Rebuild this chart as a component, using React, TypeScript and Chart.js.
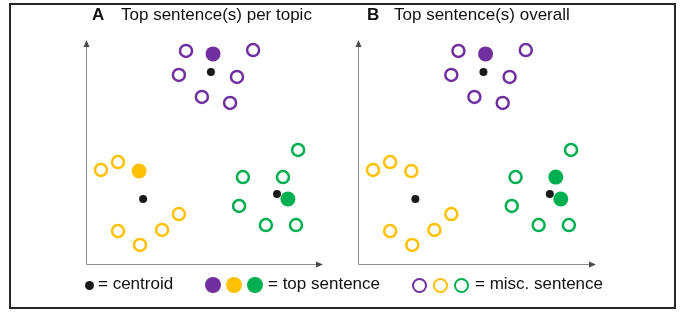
import React, { useEffect, useRef } from "react";
import { Chart, registerables } from "chart.js";

Chart.register(...registerables);

const PURPLE = "#7030A0";
const YELLOW = "#FFC000";
const GREEN = "#00B050";
const BLACK = "#1a1a1a";

// Cluster points (abstract 0-100 units on both axes)
const purpleX = [42.2, 53.6, 70.5, 39.2, 63.7, 48.9, 60.8];
const purpleY = [95.1, 93.8, 95.5, 84.4, 83.5, 74.6, 71.9];
const yellowX = [6.3, 13.5, 22.4, 39.2, 32.1, 13.5, 22.8];
const yellowY = [42.0, 45.5, 41.5, 22.3, 15.2, 14.7, 8.5];
const greenX = [89.5, 66.2, 83.1, 85.2, 64.6, 75.9, 88.6];
const greenY = [50.9, 38.8, 38.8, 29.0, 25.9, 17.4, 17.4];
const centroidX = [52.7, 24.1, 80.6];
const centroidY = [85.7, 29.0, 31.3];

// Indices of the "top sentence" points per cluster (purple, yellow, green)
const topIndexA = [[1], [2], [3]];
const topIndexB = [[1], [], [2, 3]];

const titleA = "Top sentence(s) per topic";
const titleB = "Top sentence(s) overall";

const FONT = '"Liberation Sans", Arial, Helvetica, sans-serif';

function buildDatasets(topIdx: number[][]) {
  const groups: [number[], number[], string][] = [
    [purpleX, purpleY, PURPLE],
    [yellowX, yellowY, YELLOW],
    [greenX, greenY, GREEN],
  ];
  const ds: any[] = [];
  groups.forEach(([xs, ys, c], g) => {
    const misc: any[] = [];
    const top: any[] = [];
    xs.forEach((x, i) => (topIdx[g].includes(i) ? top : misc).push({ x, y: ys[i] }));
    ds.push({
      data: top,
      pointRadius: 7.5,
      pointBackgroundColor: c,
      pointBorderColor: c,
      pointBorderWidth: 0,
      clip: false,
    });
    ds.push({
      data: misc,
      pointRadius: 6,
      pointBackgroundColor: "#ffffff",
      pointBorderColor: c,
      pointBorderWidth: 2.5,
      clip: false,
    });
  });
  ds.push({
    data: centroidX.map((x, i) => ({ x, y: centroidY[i] })),
    pointRadius: 4,
    pointBackgroundColor: BLACK,
    pointBorderColor: BLACK,
    pointBorderWidth: 0,
    clip: false,
  });
  return ds;
}

const axisArrows = {
  id: "axisArrows",
  beforeDatasetsDraw(chart: any) {
    const { ctx, chartArea } = chart;
    const { left, right, top, bottom } = chartArea;
    ctx.save();
    ctx.strokeStyle = "#8c8c8c";
    ctx.lineWidth = 1;
    ctx.beginPath();
    ctx.moveTo(left + 0.5, top + 5);
    ctx.lineTo(left + 0.5, bottom + 0.5);
    ctx.lineTo(right - 5, bottom + 0.5);
    ctx.stroke();
    ctx.fillStyle = "#4a4a4a";
    ctx.beginPath();
    ctx.moveTo(left + 0.5, top);
    ctx.lineTo(left + 3.5, top + 7);
    ctx.lineTo(left - 2.5, top + 7);
    ctx.closePath();
    ctx.fill();
    ctx.beginPath();
    ctx.moveTo(right, bottom + 0.5);
    ctx.lineTo(right - 7, bottom + 3.5);
    ctx.lineTo(right - 7, bottom - 2.5);
    ctx.closePath();
    ctx.fill();
    ctx.restore();
  },
};

function Panel({ left, padding, topIdx }: { left: number; padding: any; topIdx: number[][] }) {
  const ref = useRef<HTMLCanvasElement | null>(null);
  useEffect(() => {
    if (!ref.current) return;
    const chart = new Chart(ref.current, {
      type: "scatter",
      data: { datasets: buildDatasets(topIdx) },
      options: {
        responsive: false,
        animation: false,
        events: [],
        layout: { padding },
        plugins: { legend: { display: false }, tooltip: { enabled: false } },
        scales: {
          x: { type: "linear", min: 0, max: 100, display: false },
          y: { type: "linear", min: 0, max: 100, display: false },
        },
      },
      plugins: [axisArrows],
    } as any);
    return () => chart.destroy();
  }, []);
  return (
    <canvas
      ref={ref}
      width={345}
      height={312}
      style={{ position: "absolute", left, top: 0, width: 345, height: 312 }}
    />
  );
}

const textStyle = (left: number, top: number, bold = false): React.CSSProperties => ({
  position: "absolute",
  left,
  top,
  font: `${bold ? "bold " : ""}17px ${FONT}`,
  lineHeight: "20px",
  whiteSpace: "nowrap",
  color: "#111",
});

const dot = (cx: number, cy: number, d: number, color: string, open = false): React.CSSProperties => ({
  position: "absolute",
  left: cx - d / 2,
  top: cy - d / 2,
  width: d,
  height: d,
  boxSizing: "border-box",
  borderRadius: "50%",
  background: open ? "#fff" : color,
  border: open ? `2.5px solid ${color}` : "none",
});

export default function App() {
  return (
    <div
      style={{
        position: "fixed",
        left: 0,
        top: 0,
        width: 689,
        height: 312,
        background: "#fff",
        overflow: "hidden",
      }}
    >
      <div
        style={{
          position: "absolute",
          left: 9,
          top: 3,
          width: 667,
          height: 306,
          boxSizing: "border-box",
          border: "2px solid #262626",
        }}
      />
      <Panel left={0} padding={{ left: 86, right: 22, top: 40, bottom: 48 }} topIdx={topIndexA} />
      <Panel left={344} padding={{ left: 14, right: 93, top: 40, bottom: 48 }} topIdx={topIndexB} />

      <div style={textStyle(92, 5, true)}>A</div>
      <div style={textStyle(121, 5)}>{titleA}</div>
      <div style={textStyle(367, 5, true)}>B</div>
      <div style={textStyle(394, 5)}>{titleB}</div>

      <div style={dot(89, 285, 9, BLACK)} />
      <div style={textStyle(98, 274)}>= centroid</div>
      <div style={dot(213, 285, 16, PURPLE)} />
      <div style={dot(234, 285, 16, YELLOW)} />
      <div style={dot(255, 285, 16, GREEN)} />
      <div style={textStyle(268, 274)}>= top sentence</div>
      <div style={dot(419, 285, 15, PURPLE, true)} />
      <div style={dot(440, 285, 15, YELLOW, true)} />
      <div style={dot(461, 285, 15, GREEN, true)} />
      <div style={textStyle(475, 274)}>= misc. sentence</div>
    </div>
  );
}
